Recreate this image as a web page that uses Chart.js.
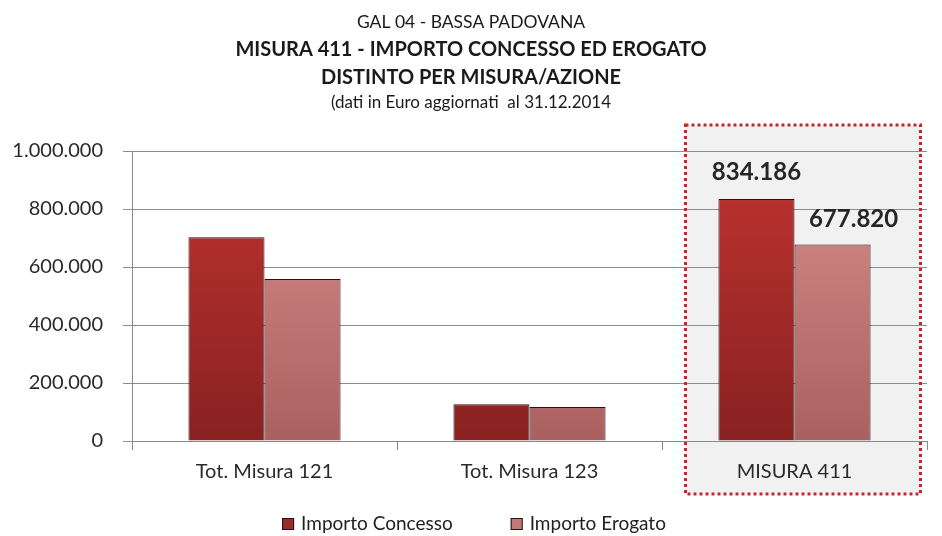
<!DOCTYPE html>
<html>
<head>
<meta charset="utf-8">
<script src="https://cdn.jsdelivr.net/npm/chart.js@4"></script>
<style>
  html, body { margin: 0; padding: 0; background: #fff; }
  #wrap { width: 942px; height: 536px; }
</style>
</head>
<body>
<div id="wrap"><canvas id="chart" width="942" height="536"></canvas></div>
<script>
    'use strict';

    const categories = ['Tot. Misura 121', 'Tot. Misura 123', 'MISURA 411'];
    const importoConcesso = [703000, 127000, 834186];
    const importoErogato = [559000, 117000, 677820];
    const seriesNames = ['Importo Concesso', 'Importo Erogato'];
    const legendSwatches = ['#9b2a2a', '#c27a78'];
    const titleLines = [
        'GAL 04 - BASSA PADOVANA',
        'MISURA 411 - IMPORTO CONCESSO ED EROGATO',
        'DISTINTO PER MISURA/AZIONE',
        '(dati in Euro aggiornati  al 31.12.2014'
    ];
    const highlightIndex = 2;

    const FONT = 'Lato, "Open Sans", sans-serif';

    function fmt(v) {
        return String(Math.round(v)).replace(/\B(?=(\d{3})+(?!\d))/g, '.');
    }

    function gradient(chart, top, bottom) {
        const area = chart.chartArea;
        if (!area) return top;
        const g = chart.ctx.createLinearGradient(0, area.top, 0, area.bottom);
        g.addColorStop(0, top);
        g.addColorStop(1, bottom);
        return g;
    }

    // grey panel + dotted red frame around the highlighted category
    function boxRect(chart) {
        const x = chart.scales.x.getPixelForValue(highlightIndex);
        return { x: x - 109, y: 125, w: 235, h: 369 };
    }

    const highlightBox = {
        id: 'highlightBox',
        beforeDraw(chart) {
            const r = boxRect(chart);
            const ctx = chart.ctx;
            ctx.save();
            ctx.fillStyle = '#f1f1f1';
            ctx.fillRect(r.x, r.y, r.w, r.h);
            ctx.restore();
        },
        afterDraw(chart) {
            const r = boxRect(chart);
            const ctx = chart.ctx;
            ctx.save();
            ctx.strokeStyle = '#c0282d';
            ctx.lineWidth = 3;
            ctx.setLineDash([3, 3]);
            ctx.strokeRect(r.x, r.y, r.w, r.h);
            ctx.restore();
        }
    };

    const headerText = {
        id: 'headerText',
        afterDraw(chart) {
            const ctx = chart.ctx;
            const cx = 471;
            ctx.save();
            ctx.fillStyle = '#1a1a1a';
            ctx.textAlign = 'center';
            ctx.textBaseline = 'middle';
            ctx.font = '17.5px ' + FONT;
            ctx.fillText(titleLines[0], cx, 22);
            ctx.font = 'bold 20px ' + FONT;
            ctx.fillText(titleLines[1], cx, 50);
            ctx.fillText(titleLines[2], cx, 78);
            ctx.font = '17px ' + FONT;
            ctx.fillText(titleLines[3], cx, 103);
            ctx.restore();
        }
    };

    const valueLabels = {
        id: 'valueLabels',
        afterDatasetsDraw(chart) {
            const ctx = chart.ctx;
            ctx.save();
            ctx.fillStyle = '#262626';
            ctx.font = 'bold 24px ' + FONT;
            ctx.textAlign = 'center';
            ctx.textBaseline = 'middle';
            const offsets = [[0, -27], [21, -25]];
            chart.data.datasets.forEach(function (ds, i) {
                const bar = chart.getDatasetMeta(i).data[highlightIndex];
                ctx.fillText(fmt(ds.data[highlightIndex]), bar.x + offsets[i][0], bar.y + offsets[i][1]);
            });
            ctx.restore();
        }
    };

    // hand-drawn legend so the item spacing matches the original
    const bottomLegend = {
        id: 'bottomLegend',
        afterDraw(chart) {
            const ctx = chart.ctx;
            const y = 524;
            const box = 12;
            const gap = 7;
            const spacing = 58;
            ctx.save();
            ctx.font = '19px ' + FONT;
            ctx.textBaseline = 'middle';
            ctx.textAlign = 'left';
            const widths = seriesNames.map(function (n) { return box + gap + ctx.measureText(n).width; });
            const total = widths[0] + spacing + widths[1];
            let x = 474 - total / 2;
            seriesNames.forEach(function (name, i) {
                ctx.fillStyle = legendSwatches[i];
                ctx.fillRect(x, y - box / 2, box, box);
                ctx.strokeStyle = '#2b1010';
                ctx.lineWidth = 1;
                ctx.strokeRect(x + 0.5, y - box / 2 + 0.5, box - 1, box - 1);
                ctx.fillStyle = '#222';
                ctx.fillText(name, x + box + gap, y);
                x += widths[i] + spacing;
            });
            ctx.restore();
        }
    };

    new Chart(document.getElementById('chart'), {
        type: 'bar',
        data: {
            labels: categories,
            datasets: [
                {
                    label: seriesNames[0],
                    data: importoConcesso,
                    backgroundColor: function (c) { return gradient(c.chart, '#c03430', '#892121'); },
                    borderColor: '#2b1010',
                    borderWidth: 1,
                    categoryPercentage: 0.574,
                    barPercentage: 1
                },
                {
                    label: seriesNames[1],
                    data: importoErogato,
                    backgroundColor: function (c) { return gradient(c.chart, '#da908c', '#a9605f'); },
                    borderColor: '#2b1010',
                    borderWidth: 1,
                    categoryPercentage: 0.574,
                    barPercentage: 1
                }
            ]
        },
        options: {
            responsive: false,
            animation: false,
            layout: { padding: { top: 151, left: 0, right: 15, bottom: 53 } },
            plugins: {
                title: { display: false },
                tooltip: { enabled: false },
                legend: { display: false }
            },
            scales: {
                x: {
                    grid: { display: true, offset: true, drawOnChartArea: false, tickLength: 9, color: '#888' },
                    border: { color: '#888' },
                    ticks: { font: { family: FONT, size: 20 }, color: '#2a2a2a', padding: 10 },
                    afterFit: function (s) { s.height = 42; }
                },
                y: {
                    min: 0,
                    max: 1000000,
                    grid: { color: '#8c8c8c', tickLength: 9 },
                    border: { color: '#888' },
                    ticks: {
                        stepSize: 200000,
                        font: { family: FONT, size: 20 },
                        color: '#2a2a2a',
                        padding: 20,
                        callback: function (v) { return fmt(v); }
                    },
                    afterFit: function (s) { s.width = 132; }
                }
            }
        },
        plugins: [highlightBox, headerText, valueLabels, bottomLegend]
    });
</script>
</body>
</html>
